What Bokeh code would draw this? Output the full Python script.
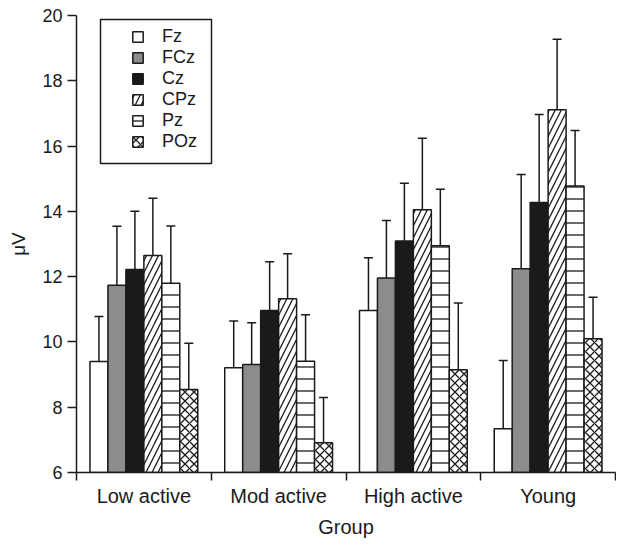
import numpy as np
from bokeh.plotting import figure
from bokeh.models import (ColumnDataSource, FixedTicker, Range1d, Whisker,
                          TeeHead, Legend, LegendItem, BoxAnnotation)
from bokeh.embed import file_html
from bokeh.resources import INLINE

# ---- data ----
groups = ["Low active", "Mod active", "High active", "Young"]
channels = ["Fz", "FCz", "Cz", "CPz", "Pz", "POz"]

fz = [9.40, 9.21, 10.96, 7.34]
fcz = [11.74, 9.31, 11.96, 12.24]
cz = [12.22, 10.96, 13.09, 14.27]
cpz = [12.65, 11.32, 14.05, 17.11]
pz = [11.80, 9.41, 12.95, 14.78]
poz = [8.54, 6.91, 9.15, 10.10]

fz_err = [1.38, 1.43, 1.62, 2.09]
fcz_err = [1.80, 1.28, 1.76, 2.89]
cz_err = [1.78, 1.50, 1.77, 2.70]
cpz_err = [1.75, 1.38, 2.19, 2.16]
pz_err = [1.75, 1.42, 1.73, 1.70]
poz_err = [1.42, 1.39, 2.04, 1.27]

y_ticks = [6, 8, 10, 12, 14, 16, 18, 20]

means = [fz, fcz, cz, cpz, pz, poz]
errs = [fz_err, fcz_err, cz_err, cpz_err, pz_err, poz_err]

# ---- styles ----
FONT = "Liberation Sans"
TXT = "#1a1a1a"
INK = "#1a1a1a"
styles = [
    dict(fill_color="white"),
    dict(fill_color="#8c8c8c"),
    dict(fill_color=INK),
    dict(fill_color="white", hatch_pattern="/", hatch_color=INK, hatch_scale=12, hatch_weight=1.3),
    dict(fill_color="white", hatch_pattern="-", hatch_color=INK, hatch_scale=12, hatch_weight=1.3),
    dict(fill_color="white", hatch_pattern="x", hatch_color=INK, hatch_scale=9, hatch_weight=1.3),
]

y0 = y_ticks[0]
p = figure(width=616, height=540, x_range=Range1d(0, len(groups)),
           y_range=Range1d(y_ticks[0], y_ticks[-1]),
           output_backend="svg", toolbar_location=None,
           min_border_left=76, min_border_right=1, min_border_top=15,
           min_border_bottom=68)
p.outline_line_color = None
p.xgrid.visible = False
p.ygrid.visible = False
p.background_fill_color = "white"

n = len(channels)
group_w = 0.8
bw = group_w / n
centers = np.arange(len(groups)) + 0.5

items = []
for j, ch in enumerate(channels):
    xs = centers + (j - (n - 1) / 2) * bw
    top = np.array(means[j])
    src = ColumnDataSource(dict(x=xs, top=top, upper=top + np.array(errs[j]),
                                bottom=[y0] * len(groups)))
    r = p.vbar(x="x", top="top", bottom="bottom", width=bw, source=src,
               line_color=INK, line_width=1.5, **styles[j])
    items.append(LegendItem(label=ch, renderers=[r]))
    w = Whisker(base="x", upper="upper", lower="top", source=src,
                dimension="height", line_color=INK, line_width=1.5,
                upper_head=TeeHead(size=9, line_width=1.5, line_color=INK),
                lower_head=None, level="annotation")
    p.add_layout(w)

# legend frame
box = BoxAnnotation(left=100, right=211, top=19, bottom=163,
                    left_units="canvas", right_units="canvas",
                    top_units="canvas", bottom_units="canvas",
                    fill_color="white", fill_alpha=1.0,
                    line_color=INK, line_width=1.5, line_alpha=1.0)
p.add_layout(box)

legend = Legend(items=items, location=(55, 320), border_line_color=None,
                background_fill_alpha=0.0,
                glyph_width=13, glyph_height=13, label_height=13,
                spacing=0, padding=0, label_standoff=18,
                label_text_font=FONT, label_text_font_size="18px",
                label_text_color=TXT, margin=0)
p.add_layout(legend)

# x axis
xa = p.xaxis[0]
xa.ticker = FixedTicker(ticks=list(centers), minor_ticks=list(range(len(groups) + 1)))
xa.major_label_overrides = {float(c): g for c, g in zip(centers, groups)}
xa.major_tick_line_color = None
xa.major_tick_out = 8
xa.major_tick_in = 0
xa.minor_tick_out = 8
xa.minor_tick_in = 0
xa.minor_tick_line_color = INK
xa.minor_tick_line_width = 1.5
xa.axis_line_width = 1.5
xa.axis_line_color = INK
xa.major_label_standoff = 4
xa.major_label_text_font = FONT
xa.major_label_text_font_size = "20px"
xa.major_label_text_color = TXT
xa.axis_label = "Group"
xa.axis_label_text_font = FONT
xa.axis_label_text_font_size = "20px"
xa.axis_label_text_font_style = "normal"
xa.axis_label_text_color = TXT
xa.axis_label_standoff = 6

# y axis
ya = p.yaxis[0]
ya.ticker = FixedTicker(ticks=y_ticks, minor_ticks=[])
ya.major_tick_out = 9
ya.major_tick_in = 0
ya.major_tick_line_width = 1.5
ya.major_tick_line_color = INK
ya.axis_line_width = 1.5
ya.axis_line_color = INK
ya.major_label_standoff = 5
ya.major_label_text_font = FONT
ya.major_label_text_font_size = "18px"
ya.major_label_text_color = TXT
ya.axis_label = "μV"
ya.axis_label_text_font = FONT
ya.axis_label_text_font_size = "19px"
ya.axis_label_text_font_style = "normal"
ya.axis_label_text_color = TXT
ya.axis_label_standoff = 10

open("out.html", "w").write(file_html(p, INLINE))
